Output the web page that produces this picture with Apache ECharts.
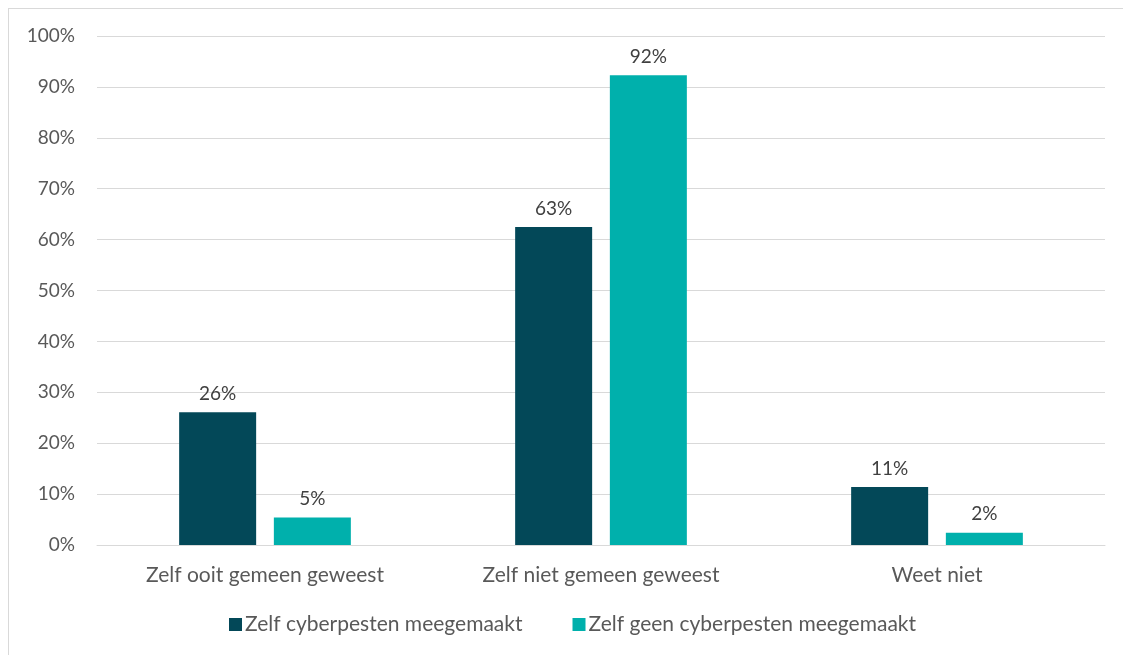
<!DOCTYPE html>
<html>
<head>
<meta charset="utf-8">
<script src="https://cdn.jsdelivr.net/npm/echarts@6/dist/echarts.min.js"></script>
<style>
  html, body { margin: 0; padding: 0; background: #fff; }
  #frame { position: absolute; left: 8px; top: 8px; width: 1120px; height: 652px; border: 1px solid #d9d9d9; box-sizing: border-box; }
  #chart { position: absolute; left: 0; top: 0; width: 1123px; height: 655px; }
</style>
</head>
<body>
<div id="frame"></div>
<div id="chart"></div>
<script>
var categories = ['Zelf ooit gemeen geweest', 'Zelf niet gemeen geweest', 'Weet niet']
var seriesNames = ['Zelf cyberpesten meegemaakt', 'Zelf geen cyberpesten meegemaakt']
var metPesten = [26.1, 62.5, 11.4]
var geenPesten = [5.4, 92.3, 2.4]
var colors = ['#034858', '#00B0AC']

var myChart = echarts.init(document.getElementById('chart'))
var font = 'Lato, "Open Sans", sans-serif'
var labelStyle = {
  show: true,
  position: 'top',
  distance: 9,
  color: '#404040',
  fontFamily: font,
  fontSize: 19,
  formatter: function (p) { return Math.round(p.value) + '%' }
}

var option = {
  animation: false,
  textStyle: { fontFamily: font },
  grid: { left: 97, right: 18, top: 36, bottom: 110 },
  legend: {
    bottom: 15,
    left: 224,
    itemWidth: 13,
    itemHeight: 13,
    itemGap: 50,
    icon: 'rect',
    textStyle: { color: '#595959', fontSize: 21, fontFamily: font, padding: [0, 0, 0, -2] },
    data: seriesNames
  },
  xAxis: {
    type: 'category',
    data: categories,
    axisLine: { lineStyle: { color: '#d9d9d9', width: 1 } },
    axisTick: { show: false },
    axisLabel: { color: '#595959', fontSize: 21, margin: 20, fontFamily: font }
  },
  yAxis: {
    type: 'value',
    min: 0,
    max: 100,
    interval: 10,
    axisLine: { show: false },
    axisTick: { show: false },
    splitLine: { lineStyle: { color: '#d9d9d9', width: 1 } },
    axisLabel: { color: '#595959', fontSize: 19, margin: 22, fontFamily: font, formatter: '{value}%' }
  },
  series: [
    {
      name: seriesNames[0],
      type: 'bar',
      data: metPesten,
      barWidth: 77,
      barGap: '23%',
      itemStyle: { color: colors[0] },
      label: labelStyle
    },
    {
      name: seriesNames[1],
      type: 'bar',
      data: geenPesten,
      barWidth: 77,
      itemStyle: { color: colors[1] },
      label: labelStyle
    }
  ]
}
myChart.setOption(option)
</script>
</body>
</html>
